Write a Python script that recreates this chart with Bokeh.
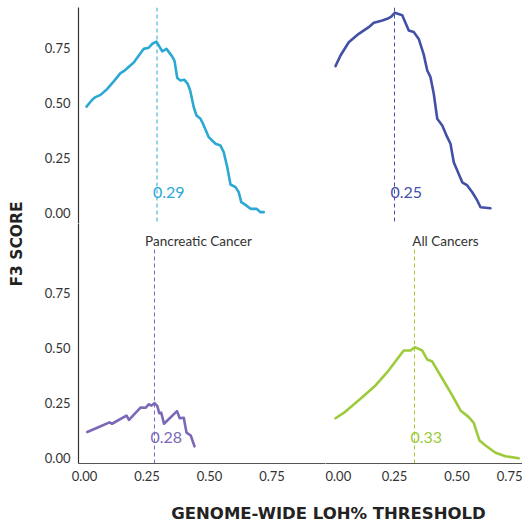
import math
from bokeh.plotting import figure
from bokeh.layouts import row, column
from bokeh.models import Range1d, Span, Label, FixedTicker
from bokeh.embed import file_html
from bokeh.resources import INLINE

# ---------------- data ----------------
tick_values = [0.0, 0.25, 0.50, 0.75]
tick_labels = ["0.00", "0.25", "0.50", "0.75"]

y_title = "F3 SCORE"
x_title = "GENOME-WIDE LOH% THRESHOLD"
strip_left = "Pancreatic Cancer"
strip_right = "All Cancers"

# top-left panel (cyan)
tl_x = [0.008, 0.030, 0.044, 0.064, 0.091, 0.117, 0.144, 0.157, 0.197, 0.237, 0.257, 0.271, 0.288,
        0.311, 0.328, 0.351, 0.360, 0.371, 0.384, 0.400, 0.413, 0.423, 0.437, 0.448, 0.464, 0.477,
        0.497, 0.524, 0.544, 0.557, 0.571, 0.584, 0.604, 0.617, 0.627, 0.644, 0.664, 0.688, 0.704, 0.717]
tl_y = [0.483, 0.513, 0.526, 0.536, 0.563, 0.597, 0.634, 0.643, 0.682, 0.744, 0.749, 0.767, 0.777,
        0.733, 0.744, 0.709, 0.690, 0.612, 0.601, 0.604, 0.586, 0.555, 0.480, 0.443, 0.428, 0.398,
        0.345, 0.315, 0.307, 0.277, 0.209, 0.131, 0.119, 0.096, 0.051, 0.039, 0.021, 0.021, 0.006, 0.006]
tl_threshold = 0.29

# top-right panel (dark blue)
tr_x = [0.014, 0.034, 0.067, 0.107, 0.147, 0.167, 0.187, 0.201, 0.221, 0.237, 0.251, 0.281, 0.307,
        0.327, 0.347, 0.367, 0.381, 0.394, 0.407, 0.421, 0.441, 0.461, 0.474, 0.487, 0.507, 0.521,
        0.541, 0.561, 0.581, 0.594, 0.634]
tr_y = [0.666, 0.714, 0.774, 0.812, 0.842, 0.862, 0.868, 0.872, 0.880, 0.890, 0.907, 0.896, 0.827,
        0.820, 0.789, 0.718, 0.646, 0.616, 0.541, 0.428, 0.398, 0.345, 0.315, 0.232, 0.179, 0.141,
        0.127, 0.096, 0.059, 0.028, 0.024]
tr_threshold = 0.25

# bottom-left panel: Pancreatic Cancer (purple)
bl_x = [0.011, 0.051, 0.100, 0.110, 0.168, 0.178, 0.224, 0.244, 0.257, 0.268, 0.280, 0.291, 0.299,
        0.307, 0.318, 0.370, 0.381, 0.397, 0.408, 0.425, 0.440]
bl_y = [0.120, 0.139, 0.163, 0.157, 0.194, 0.175, 0.230, 0.229, 0.245, 0.239, 0.250, 0.238, 0.205,
        0.207, 0.157, 0.214, 0.182, 0.184, 0.117, 0.104, 0.055]
bl_threshold = 0.28

# bottom-right panel: All Cancers (green)
br_x = [0.014, 0.054, 0.114, 0.174, 0.221, 0.261, 0.287, 0.314, 0.331, 0.361, 0.381, 0.401, 0.434,
        0.481, 0.514, 0.547, 0.567, 0.590, 0.614, 0.654, 0.694, 0.747]
br_y = [0.182, 0.212, 0.270, 0.330, 0.390, 0.450, 0.488, 0.488, 0.503, 0.488, 0.447, 0.438, 0.375,
        0.285, 0.217, 0.187, 0.161, 0.081, 0.059, 0.026, 0.010, 0.001]
br_threshold = 0.33

# ---------------- style / layout ----------------
C_TL = "#2BA8D3"
C_TR = "#4251A6"
C_BL = "#7C68B7"
C_BR = "#9DCB3B"

TICK_FONT = "Lato"
TITLE_FONT = "DejaVu Sans"

LEFT_X_RANGE = (-0.024, 0.964)
RIGHT_X_RANGE = (-0.026, 0.762)
TOP_Y_RANGE = (-0.0452, 0.9309)
BOT_Y_RANGE = (-0.0226, 1.0619)
BOT_PANEL_TOP = 0.953

LEFT_FW, RIGHT_FW = 247, 197
TOP_FH, BOT_FH = 216, 240
TOP_PAD = 7
LEFT_BORDER = 48
BOTTOM_BORDER = 24
YLAB_W = 30
XLAB_H = 34


def style_axis(ax, line_color):
    ax.ticker = FixedTicker(ticks=tick_values)
    ax.major_label_overrides = {v: s for v, s in zip(tick_values, tick_labels)}
    ax.major_tick_out = 0
    ax.major_tick_in = 0
    ax.minor_tick_out = 0
    ax.minor_tick_in = 0
    ax.axis_line_color = line_color
    ax.axis_line_width = 1.2
    ax.major_label_text_font = TICK_FONT
    ax.major_label_text_font_size = "13px"
    ax.major_label_text_color = "#333333"


def make_panel(xs, ys, thr, color, x_rng, y_rng, fw, fh, left_axis, bottom_axis,
               bottom_row=False, strip=None):
    p = figure(frame_width=fw, frame_height=fh,
               x_range=Range1d(*x_rng), y_range=Range1d(*y_rng),
               x_axis_location="below" if bottom_axis else None,
               y_axis_location="left" if left_axis else None,
               toolbar_location=None, output_backend="svg", min_border=0)
    p.min_border_left = LEFT_BORDER if left_axis else 0
    p.min_border_bottom = BOTTOM_BORDER if bottom_axis else 0
    p.min_border_top = 0 if bottom_row else TOP_PAD
    p.outline_line_color = None
    p.grid.visible = False
    p.background_fill_color = "white"
    p.border_fill_color = "white"
    if left_axis:
        style_axis(p.yaxis[0], "#333333")
        p.yaxis[0].major_label_standoff = 8
    if bottom_axis:
        style_axis(p.xaxis[0], "#555555")
        p.xaxis[0].major_label_standoff = 7

    if bottom_row:
        p.segment(x0=[thr], y0=[y_rng[0]], x1=[thr], y1=[BOT_PANEL_TOP],
                  line_color=color, line_width=1, line_dash="4 3")
    else:
        p.add_layout(Span(location=thr, dimension="height", line_color=color,
                          line_width=1, line_dash="4 3"))

    p.line(xs, ys, line_color=color, line_width=2.6, line_join="round", line_cap="round")

    p.add_layout(Label(x=thr, y=0.095, x_offset=-4, text=f"{thr:.2f}",
                       text_align="left", text_baseline="middle",
                       text_color=color, text_font=TICK_FONT,
                       text_font_size="16px"))
    if strip is not None:
        p.add_layout(Label(x=120, x_units="screen", y=223, y_units="screen",
                           text=strip, text_align="center", text_baseline="alphabetic",
                           text_color="#333333", text_font=TICK_FONT,
                           text_font_size="13.5px"))
    return p


p_tl = make_panel(tl_x, tl_y, tl_threshold, C_TL, LEFT_X_RANGE, TOP_Y_RANGE,
                  LEFT_FW, TOP_FH, True, False)
p_tr = make_panel(tr_x, tr_y, tr_threshold, C_TR, RIGHT_X_RANGE, TOP_Y_RANGE,
                  RIGHT_FW, TOP_FH, False, False)
p_bl = make_panel(bl_x, bl_y, bl_threshold, C_BL, LEFT_X_RANGE, BOT_Y_RANGE,
                  LEFT_FW, BOT_FH, True, True, bottom_row=True, strip=strip_left)
p_br = make_panel(br_x, br_y, br_threshold, C_BR, RIGHT_X_RANGE, BOT_Y_RANGE,
                  RIGHT_FW, BOT_FH, False, True, bottom_row=True, strip=strip_right)

grid_h = TOP_PAD + TOP_FH + BOT_FH + BOTTOM_BORDER
total_w = YLAB_W + LEFT_BORDER + LEFT_FW + RIGHT_FW


def empty_fig(w, h):
    f = figure(width=w, height=h, x_axis_location=None, y_axis_location=None,
               toolbar_location=None, output_backend="svg", min_border=0,
               x_range=Range1d(0, 1), y_range=Range1d(0, 1))
    f.outline_line_color = None
    f.grid.visible = False
    return f


ylab = empty_fig(YLAB_W, grid_h)
ylab.add_layout(Label(x=16, x_units="screen", y=grid_h - 243.5, y_units="screen",
                      text=y_title, angle=math.pi / 2, text_align="center",
                      text_baseline="middle", text_font=TITLE_FONT,
                      text_font_style="bold", text_font_size="15.5px",
                      text_color="#222222"))

xlab = empty_fig(total_w, XLAB_H)
xlab.add_layout(Label(x=328, x_units="screen", y=8.5, y_units="screen",
                      text=x_title, text_align="center", text_baseline="middle",
                      text_font=TITLE_FONT, text_font_style="bold",
                      text_font_size="16.5px", text_color="#222222"))

layout = column(
    row(ylab, column(row(p_tl, p_tr), row(p_bl, p_br))),
    xlab,
)

with open("out.html", "w") as fh:
    fh.write(file_html(layout, INLINE))
